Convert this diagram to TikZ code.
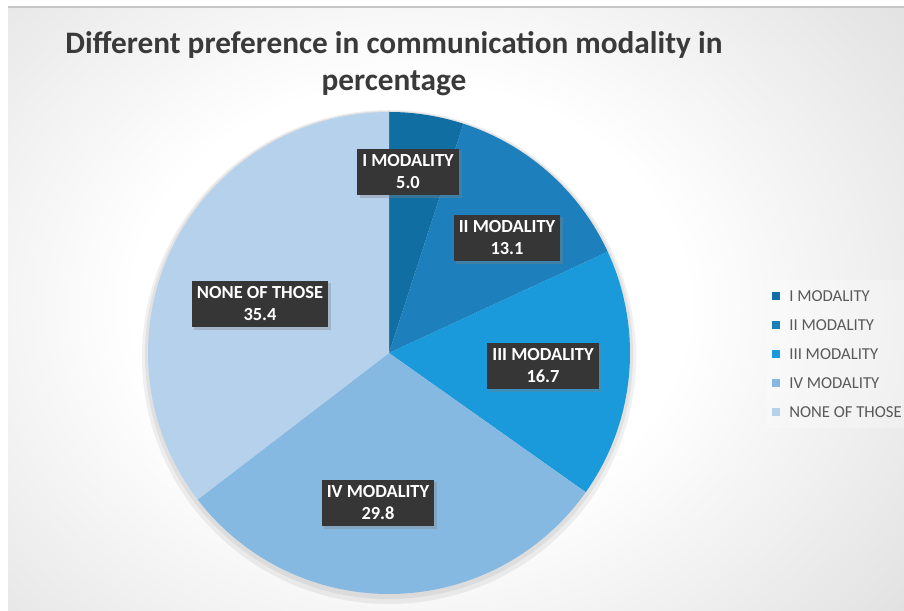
\documentclass[tikz,border=0pt]{standalone}
\usepackage{fontspec}
\setmainfont{Carlito}
\usepackage{tikz}
\usetikzlibrary{positioning,shadows,calc}
\definecolor{modI}{HTML}{106EA2}
\definecolor{modII}{HTML}{1D80BD}
\definecolor{modIII}{HTML}{1A9ADA}
\definecolor{modIV}{HTML}{86B9E1}
\definecolor{modNone}{HTML}{B5D1EC}
\definecolor{boxgray}{HTML}{363636}
\definecolor{titlegray}{HTML}{3A3A3A}
\definecolor{leggray}{HTML}{595959}
\pgfdeclareradialshading{chartglow}{\pgfpoint{0bp}{0bp}}{color(0bp)=(white); color(14bp)=(white); color(40bp)=(gray!34); color(56bp)=(gray!44); color(90bp)=(gray!44)}

\begin{document}
\begin{tikzpicture}[x=0.02cm, y=0.02cm,
    slicelabel/.style={fill=boxgray, text=white, align=center, inner xsep=3pt, inner ysep=3.5pt,
      font=\bfseries\fontsize{10.5}{12.5}\selectfont,
      drop shadow={shadow xshift=1.5pt, shadow yshift=-1.5pt, opacity=0.35}},
    legtext/.style={anchor=west, text=leggray, inner sep=0pt, font=\fontsize{9.5}{11}\selectfont}]
      \useasboundingbox (0,0) rectangle (904,611);
      \fill[white] (0,0) rectangle (904,611);
      \begin{scope}
        \clip (8,0) rectangle (904,604);
        \shade[shading=chartglow] (-84,-90) rectangle (904,700);
      \end{scope}
      \draw[gray!45, line width=0.6pt] (8,604) -- (904,604);

      % pie
      \coordinate (pie) at (389,258);
      \fill[black, opacity=0.06] ($ (pie) + (0,-4) $) circle[radius=247];
      \fill[black, opacity=0.06] ($ (pie) + (0,-2) $) circle[radius=244];
      \foreach \a/\b/\c in {90/72/modI, 72/24.84/modII, 24.84/-35.28/modIII,
                            -35.28/-142.56/modIV, -142.56/-270/modNone} {
        \fill[\c] (pie) -- ++(\a:241) arc[start angle=\a, end angle=\b, radius=241] -- cycle;
      }

      \node[text=titlegray, align=center, font=\bfseries\fontsize{17.8}{21}\selectfont] (title)
        at (394,547) {Different preference in communication modality in\\percentage};

      \node[slicelabel] (lblI) at (408,439) {I MODALITY\\5.0};
      \node[slicelabel] (lblII) at (507,373) {II MODALITY\\13.1};
      \node[slicelabel] (lblIII) at (543,245) {III MODALITY\\16.7};
      \node[slicelabel] (lblIV) at (378,108) {IV MODALITY\\29.8};
      \node[slicelabel] (lblNone) at (260,307) {NONE OF THOSE\\35.4};

      % legend
      \fill[white, opacity=0.25] (767,183) rectangle (904,331);
      \foreach \t/\c [count=\i] in {I MODALITY/modI, II MODALITY/modII, III MODALITY/modIII,
                                    IV MODALITY/modIV, NONE OF THOSE/modNone} {
        \fill[\c] (772,315-29*\i+29-4) rectangle ++(8,8);
        \node[legtext] (leg\i) at (789,315-29*\i+29) {\t};
      }
    \end{tikzpicture}
\end{document}
